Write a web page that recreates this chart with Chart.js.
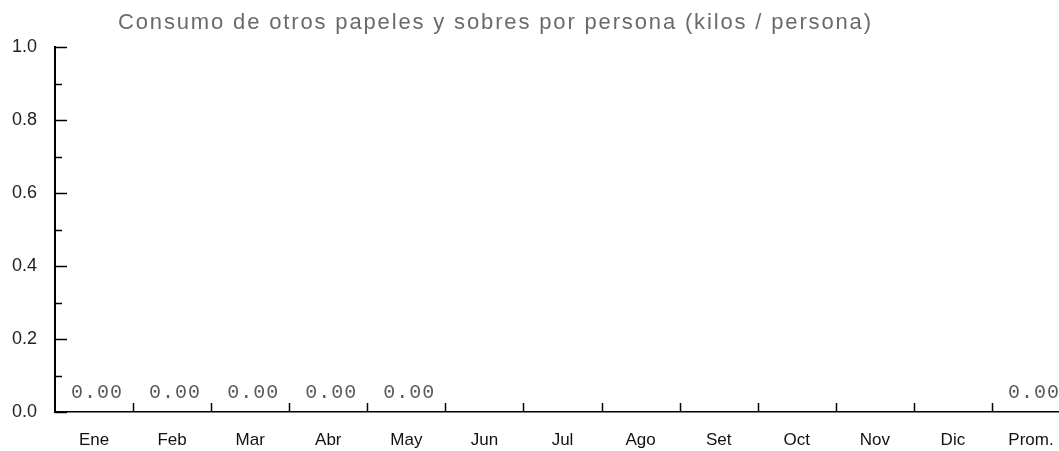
<!DOCTYPE html>
<html>
<head>
<meta charset="utf-8">
<script src="https://cdn.jsdelivr.net/npm/chart.js@4/dist/chart.umd.min.js"></script>
<style>
  html, body { margin: 0; padding: 0; background: #fff; overflow: hidden; }
  #wrap { width: 1075px; height: 451px; }
</style>
</head>
<body>
<div id="wrap"><canvas id="c" width="1075" height="451"></canvas></div>
<script>
const chartTitle = 'Consumo de otros papeles y sobres por persona (kilos / persona)';
const categories = ['Ene', 'Feb', 'Mar', 'Abr', 'May', 'Jun', 'Jul', 'Ago', 'Set', 'Oct', 'Nov', 'Dic', 'Prom.'];
const consumo = [0, 0, 0, 0, 0, null, null, null, null, null, null, null, 0];
const yMin = 0;
const yMax = 1;
const yStep = 0.2;

const titlePlugin = {
  id: 'spacedTitle',
  afterDraw(chart) {
    const ctx = chart.ctx;
    ctx.save();
    ctx.font = '22px "Liberation Sans", Arial, sans-serif';
    ctx.fillStyle = '#6a6a6a';
    ctx.textAlign = 'left';
    ctx.textBaseline = 'alphabetic';
    if ('letterSpacing' in ctx) ctx.letterSpacing = '1.85px';
    ctx.fillText(chartTitle, 118, 29);
    ctx.restore();
  }
};

const tickPlugin = {
  id: 'innerTicks',
  afterDraw(chart) {
    const { ctx, scales: { x, y } } = chart;
    ctx.save();
    ctx.strokeStyle = '#000';
    ctx.lineWidth = 1.5;
    const majors = y.ticks.map(t => t.value);
    const marks = [];
    majors.forEach((v, i) => {
      marks.push({ v, len: 12 });
      if (i < majors.length - 1) marks.push({ v: (v + majors[i + 1]) / 2, len: 7 });
    });
    marks.forEach(m => {
      const py = Math.round(y.getPixelForValue(m.v)) + 0.5;
      ctx.beginPath();
      ctx.moveTo(x.left, py);
      ctx.lineTo(x.left + m.len, py);
      ctx.stroke();
    });
    for (let i = 1; i < categories.length; i++) {
      const px = Math.round((x.getPixelForValue(i - 1) + x.getPixelForValue(i)) / 2) + 0.5;
      ctx.beginPath();
      ctx.moveTo(px, y.bottom);
      ctx.lineTo(px, y.bottom - 9);
      ctx.stroke();
    }
    ctx.restore();
  }
};

const valueLabelPlugin = {
  id: 'valueLabels',
  afterDatasetsDraw(chart) {
    const ctx = chart.ctx;
    chart.data.datasets.forEach((ds, di) => {
      const meta = chart.getDatasetMeta(di);
      meta.data.forEach((el, i) => {
        const v = ds.data[i];
        if (v === null || v === undefined) return;
        ctx.save();
        ctx.font = '20px "Liberation Mono", "DejaVu Sans Mono", monospace';
        ctx.fillStyle = '#5a5a5a';
        ctx.textAlign = 'center';
        ctx.textBaseline = 'middle';
        if ('letterSpacing' in ctx) ctx.letterSpacing = '1px';
        ctx.fillText(v.toFixed(2), el.x + 3, el.y - 19);
        ctx.restore();
      });
    });
  }
};

new Chart(document.getElementById('c'), {
  type: 'bar',
  data: {
    labels: categories,
    datasets: [{
      label: chartTitle,
      data: consumo,
      backgroundColor: '#000',
      borderWidth: 0
    }]
  },
  options: {
    responsive: false,
    animation: false,
    devicePixelRatio: 1,
    layout: { padding: { top: 47, right: 5, bottom: 0, left: 0 } },
    plugins: {
      legend: { display: false },
      title: { display: false },
      tooltip: { enabled: false }
    },
    scales: {
      x: {
        type: 'category',
        offset: true,
        grid: { display: false, drawTicks: false },
        border: { display: true, color: '#000', width: 1.5 },
        ticks: {
          autoSkip: false,
          maxRotation: 0,
          padding: 18,
          color: '#111',
          font: { family: '"Liberation Sans", Arial, sans-serif', size: 17 }
        },
        afterFit(s) { s.height = 39; }
      },
      y: {
        min: yMin,
        max: yMax,
        grid: { display: false, drawTicks: false },
        border: { display: true, color: '#000', width: 2 },
        ticks: {
          stepSize: yStep,
          padding: 18,
          color: '#222',
          font: { family: '"Liberation Sans", Arial, sans-serif', size: 18 },
          callback: v => Number(v).toFixed(1)
        },
        afterFit(s) { s.width = 55; }
      }
    }
  },
  plugins: [titlePlugin, tickPlugin, valueLabelPlugin]
});
</script>
</body>
</html>
